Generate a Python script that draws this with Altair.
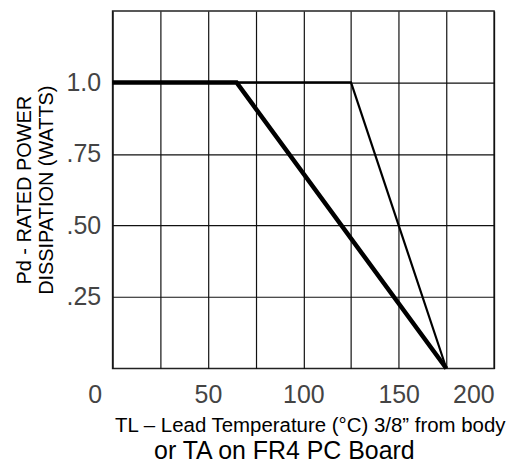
import altair as alt
import pandas as pd

# --- data -------------------------------------------------------------
series = ["thin", "thin", "thin", "thick", "thick", "thick"]
temperature = [0, 125, 175, 0, 65, 175]
power = [1.0, 1.0, 0.0, 1.0, 1.0, 0.0]
point_order = [0, 1, 2, 0, 1, 2]

x_grid = [0, 25, 50, 75, 100, 125, 150, 175, 200]
x_labelled = [0, 50, 100, 150, 200]
y_ticks = [0.25, 0.5, 0.75, 1.0]
y_labels = [".25", ".50", ".75", "1.0"]

y_title = ["Pd - RATED POWER", "DISSIPATION (WATTS)"]
x_title = "TL \u2013 Lead Temperature (\u00b0C) 3/8\u201d from body"
x_title2 = "or TA on FR4 PC Board"

df = pd.DataFrame({"series": series, "T": temperature, "P": power, "o": point_order})

# label expressions built from the lists
y_expr = "''"
for v, lab in zip(y_ticks, y_labels):
    y_expr = f"datum.value == {v} ? '{lab}' : ({y_expr})"
x_expr = "''"
for v in x_labelled:
    x_expr = f"datum.value == {v} ? '{v}' : ({x_expr})"

label_font = "Liberation Sans"

chart = (
    alt.Chart(df)
    .mark_line(color="black", clip=False)
    .encode(
        x=alt.X(
            "T:Q",
            scale=alt.Scale(domain=[0, 200], nice=False),
            axis=alt.Axis(
                values=x_grid,
                labelExpr=x_expr,
                title=x_title,
                titleFont="Liberation Sans",
                titleFontSize=20.5,
                titleFontWeight="normal",
                titleColor="black",
                titlePadding=8,
                labelPadding=14,
                labelOffset={"condition": {"test": "datum.value == 0", "value": -25}, "value": 0},
                titleX=198,
            ),
        ),
        y=alt.Y(
            "P:Q",
            scale=alt.Scale(domain=[0, 1.25], nice=False),
            axis=alt.Axis(
                values=y_ticks,
                labelExpr=y_expr,
                title=y_title,
                titleFont="Liberation Sans",
                titleFontSize=20,
                titleFontWeight="normal",
                titleColor="black",
                titlePadding=10,
                labelPadding=12,
            ),
        ),
        order="o:Q",
        detail="series:N",
        size=alt.Size(
            "series:N",
            scale=alt.Scale(domain=["thin", "thick"], range=[2.2, 4.5]),
            legend=None,
        ),
    )
    .properties(
        width=383,
        height=359,
        padding={"left": 6, "top": 2, "right": 5, "bottom": 0},
        title=alt.TitleParams(
            text=x_title2,
            orient="bottom",
            anchor="middle",
            font="Liberation Sans",
            fontSize=25,
            fontWeight="normal",
            color="black",
            dx=-19,
            offset=3,
        ),
    )
    .configure_axis(
        grid=True,
        gridColor="#111",
        gridWidth=1.2,
        gridOpacity=1,
        domain=False,
        ticks=False,
        labelFont=label_font,
        labelFontSize=25,
        labelColor="#444",
    )
    .configure_view(stroke="#222", strokeWidth=1.5)
)

chart.save("out.html", embed_options={"renderer": "svg", "actions": False})
